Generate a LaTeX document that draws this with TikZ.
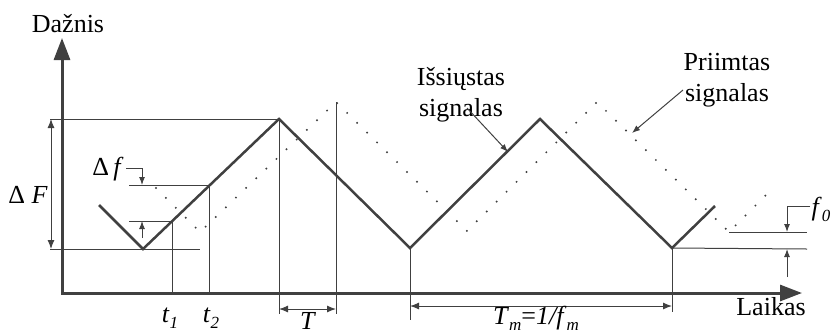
\documentclass[tikz,border=0pt]{standalone}
\usepackage{fontspec}
\setmainfont{Liberation Serif}
\usetikzlibrary{arrows.meta}
\definecolor{ink}{HTML}{404040}
\newcommand\lsub[1]{\raisebox{-0.25em}{\fontsize{17}{17}\selectfont\itshape #1}}
\begin{document}
\begin{tikzpicture}[x=1pt,y=-1pt,
  axis/.style={draw=ink, line width=3pt, -{Triangle[length=22pt,width=16pt]}},
  sig/.style={draw=ink, line width=2.5pt, line join=miter},
  rx/.style={draw=ink, line width=2.2pt, line cap=round, dash pattern=on 0pt off 14pt},
  thin/.style={draw=ink, line width=1pt},
  tip/.style={-{Latex[length=8pt,width=6pt]}},
  dim/.style={thin, {Latex[length=9pt,width=7pt]}-{Latex[length=9pt,width=7pt]}},
  lbl/.style={font=\fontsize{26}{30}\selectfont, inner sep=0pt, anchor=base, text=black}]
\useasboundingbox (0,0) rectangle (834,333);
% axes
\coordinate (o) at (62,293);
\coordinate (ytip) at (62,38);
\coordinate (xtip) at (802,293);
% transmitted
\coordinate (s0) at (99,205);
\coordinate (s1) at (143,249);
\coordinate (s2) at (279,119);
\coordinate (s3) at (410,248);
\coordinate (s4) at (540,119);
\coordinate (s5) at (672,248);
\coordinate (s6) at (715,206);
% received
\coordinate (r0) at (156,188);
\coordinate (r1) at (200,232);
\coordinate (r2) at (336,102);
\coordinate (r3) at (467,231);
\coordinate (r4) at (597,102);
\coordinate (r5) at (729,232);
\coordinate (r6) at (772,189);

% helper lines
\coordinate (topL) at (50,119);
\coordinate (botL) at (50,249);
\coordinate (botR) at (200,249);
\draw[thin] (topL) -- (s2);
\draw[thin] (botL) -- (botR);
\coordinate (dFa) at (51,119);
\coordinate (dFb) at (51,249);
\draw[dim] (dFa) -- (dFb);

% delta f
\coordinate (h1L) at (129,185);
\coordinate (h1R) at (209,185);
\coordinate (h2L) at (129,221);
\coordinate (h2R) at (172,221);
\draw[thin] (h1L) -- (h1R);
\draw[thin] (h2L) -- (h2R);
\coordinate (t1b) at (172,293);
\coordinate (t2b) at (209,293);
\draw[thin] (h2R) -- (t1b);
\draw[thin] (h1R) -- (t2b);
\coordinate (dfk0) at (126,168);
\coordinate (dfk1) at (142,168);
\coordinate (dfa) at (142,185);
\coordinate (dfb0) at (142,238);
\coordinate (dfb) at (142,221);
\draw[thin,tip] (dfk0) -- (dfk1) -- (dfa);
\draw[thin,tip] (dfb0) -- (dfb);

% T
\coordinate (T1b) at (279,314);
\coordinate (T2b) at (336,314);
\draw[thin] (s2) -- (T1b);
\draw[thin] (r2) -- (T2b);
\coordinate (Ta) at (279,309);
\coordinate (Tb) at (336,309);
\draw[dim] (Ta) -- (Tb);

% Tm
\coordinate (M1b) at (410,320);
\coordinate (M2b) at (672,312);
\draw[thin] (s3) -- (M1b);
\draw[thin] (s5) -- (M2b);
\coordinate (Ma) at (410,306);
\coordinate (Mb) at (672,306);
\draw[dim] (Ma) -- (Mb);

% f0
\coordinate (f0h1) at (807,232);
\coordinate (f0h2) at (807,249);
\draw[thin] (r5) -- (f0h1);
\draw[thin] (s5) -- (f0h2);
\coordinate (fk0) at (810,206);
\coordinate (fk1) at (787,206);
\coordinate (fa) at (787,232);
\coordinate (fb0) at (787,277);
\coordinate (fb) at (787,249);
\draw[thin,tip] (fk0) -- (fk1) -- (fa);
\draw[thin,tip] (fb0) -- (fb);

% signals
\draw[rx] (r0) -- (r1) -- (r2) -- (r3) -- (r4) -- (r5) -- (r6);
\draw[sig] (s0) -- (s1) -- (s2) -- (s3) -- (s4) -- (s5) -- (s6);

% axes drawn on top
\draw[axis] (o) -- (ytip);
\draw[axis] (o) -- (xtip);
\draw[draw=ink, line width=3pt, line cap=rect] (62,293) -- (63,293);

% labels
\node[lbl] (ylab) at (68,32) {Dažnis};
\node[lbl] (xlab) at (771,315) {Laikas};
\node[lbl] (dFlab) at (28,203) {Δ \textit{F}};
\node[lbl] (dflab) at (108,175) {Δ\,\textit{f}};
\node[lbl] (t1lab) at (170,322) {\textit{t}\lsub{1}};
\node[lbl] (t2lab) at (211,322) {\textit{t}\lsub{2}};
\node[lbl, text depth=0pt] (Tlab) at (308,329) {\textit{T}};
\node[lbl, text depth=0pt] (Tmlab) at (536,324) {\textit{T}\lsub{m}=\textit{1/f}\lsub{m}};
\node[lbl] (f0lab) at (821,215) {\textit{f}\lsub{0}};
\node[lbl] (tx1) at (461,85) {Išsiųstas};
\node[lbl] (tx2) at (461,116) {signalas};
\node[lbl] (rx1) at (727,70) {Priimtas};
\node[lbl] (rx2) at (727,101) {signalas};

% annotation arrows
\coordinate (txa) at (467,108);
\coordinate (txb) at (508,152);
\draw[thin,tip] (txa) -- (txb);
\coordinate (rxa) at (683,90);
\coordinate (rxb) at (632,133);
\draw[thin,tip] (rxa) -- (rxb);
\end{tikzpicture}
\end{document}
